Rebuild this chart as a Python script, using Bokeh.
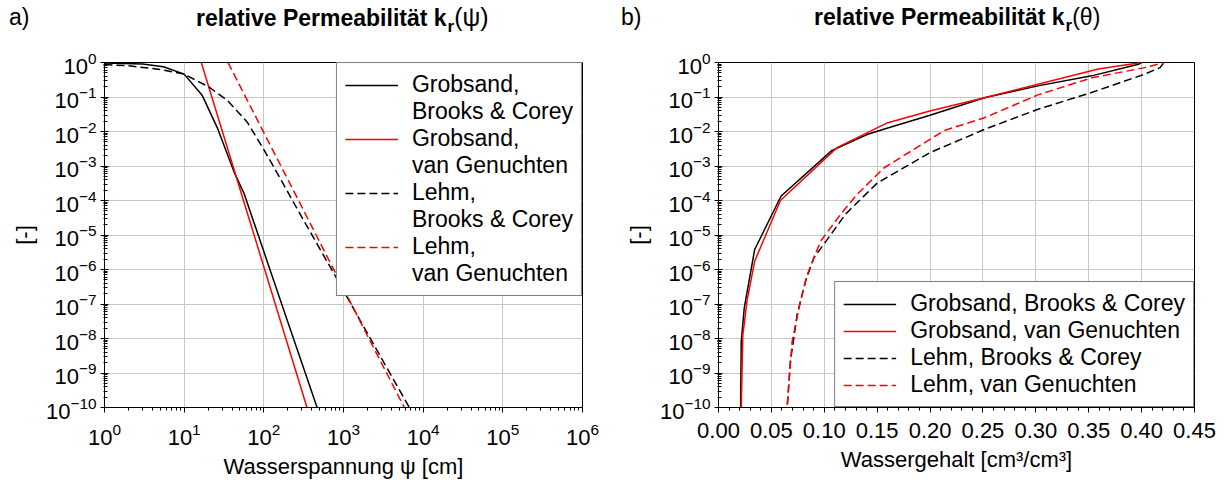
from bokeh.plotting import figure
from bokeh.models import (FixedTicker, LogTickFormatter, Legend, LegendItem, Div,
                          PrintfTickFormatter, Range1d)
from bokeh.layouts import row, column
from bokeh.embed import file_html
from bokeh.resources import INLINE

FONT = "Liberation Sans"

# ---------------- panel a: kr(psi) ----------------
psi_gs_bc = [1, 3, 5.5, 10, 16.9, 26, 42, 56.5, 100, 200, 466, 700]
kr_gs_bc = [0.97, 0.9, 0.75, 0.46, 0.11, 1.3e-2, 7e-4, 1.6e-4, 3.3e-6, 3.0e-8, 1e-10, 6e-12]

psi_gs_vg = [16.4, 30, 60, 100, 200, 348, 450]
kr_gs_vg = [1.0, 1.05e-2, 5.6e-5, 1.2e-6, 6.5e-9, 1e-10, 1.4e-11]

psi_le_bc = [1, 2, 5, 10, 20.5, 35, 62, 100, 149, 300, 849, 2000, 6700, 10000]
kr_le_bc = [0.88, 0.8, 0.63, 0.46, 0.195, 7.9e-2, 1.86e-2, 3.0e-3, 5.9e-4, 3.3e-5, 4.8e-7, 1.4e-8, 1e-10, 1.9e-11]

psi_le_vg = [35.5, 60, 100, 200, 500, 1000, 2000, 5800, 8000]
kr_le_vg = [1.0, 9.3e-2, 9.3e-3, 4.1e-4, 6.4e-6, 2.8e-7, 1.2e-8, 1e-10, 2.4e-11]

# ---------------- panel b: kr(theta) ----------------
th_gs_bc = [0.0205, 0.0209, 0.0215, 0.0244, 0.0342, 0.0592, 0.107, 0.141, 0.16, 0.2007, 0.2514, 0.302, 0.3527, 0.397, 0.40]
krt_gs_bc = [1e-12, 1e-10, 8.3e-9, 7.9e-8, 3.8e-6, 1.35e-4, 2.8e-3, 8.3e-3, 1.26e-2, 3.0e-2, 9.5e-2, 0.21, 0.41, 0.89, 1.0]

th_gs_vg = [0.0209, 0.0215, 0.023, 0.027, 0.0342, 0.0585, 0.112, 0.16, 0.2007, 0.2514, 0.302, 0.359, 0.40]
krt_gs_vg = [1e-12, 1e-10, 1.26e-8, 1.26e-7, 1.74e-6, 1.0e-4, 3.4e-3, 1.8e-2, 4.0e-2, 9.5e-2, 0.234, 0.65, 1.0]

th_le_bc = [0.064, 0.0649, 0.068, 0.0744, 0.0823, 0.0902, 0.106, 0.12, 0.15, 0.2007, 0.2514, 0.302, 0.3527, 0.403, 0.4175, 0.421]
krt_le_bc = [1e-12, 1e-10, 2.2e-9, 5.0e-8, 4.6e-7, 2.2e-6, 1.0e-5, 4.0e-5, 3.2e-4, 2.5e-3, 1.15e-2, 4.4e-2, 0.135, 0.46, 0.71, 1.0]

th_le_vg = [0.064, 0.0649, 0.0696, 0.0775, 0.0839, 0.0965, 0.1155, 0.131, 0.1566, 0.2135, 0.2514, 0.302, 0.3527, 0.403, 0.421]
krt_le_vg = [1e-12, 1e-10, 8.3e-9, 1.2e-7, 7.1e-7, 6.6e-6, 4.0e-5, 1.5e-4, 8.9e-4, 1.07e-2, 2.5e-2, 0.115, 0.36, 0.71, 1.0]

# ---------------- ticks / labels ----------------
y_ticks = [1e-10, 1e-9, 1e-8, 1e-7, 1e-6, 1e-5, 1e-4, 1e-3, 1e-2, 1e-1, 1]
psi_ticks = [1, 10, 100, 1000, 10000, 100000, 1000000]
theta_ticks = [0.0, 0.05, 0.10, 0.15, 0.20, 0.25, 0.30, 0.35, 0.40, 0.45]

series_labels_a = ["Grobsand,\nBrooks & Corey", "Grobsand,\nvan Genuchten",
                   "Lehm,\nBrooks & Corey", "Lehm,\nvan Genuchten"]
series_labels_b = ["Grobsand, Brooks & Corey", "Grobsand, van Genuchten",
                   "Lehm, Brooks & Corey", "Lehm, van Genuchten"]

y_minor = [m * 10.0 ** e for e in range(-10, 0) for m in range(2, 10)]
psi_minor = [m * 10.0 ** e for e in range(0, 6) for m in range(2, 10)]
theta_minor = [i / 100 for i in range(0, 46)]

W, H = 615, 486
TITLE_H = 40
FS = "22px"


def base_fig(x_type, x_range, left, right):
    p = figure(width=W, height=H - TITLE_H, x_axis_type=x_type, y_axis_type="log",
               x_range=x_range, y_range=Range1d(1e-10, 1),
               output_backend="svg", toolbar_location=None,
               min_border_left=left, min_border_right=right,
               min_border_top=62 - TITLE_H, min_border_bottom=79)
    p.background_fill_color = "white"
    p.border_fill_color = "white"
    p.outline_line_color = "black"
    p.outline_line_width = 1
    yt = FixedTicker(ticks=y_ticks, minor_ticks=y_minor)
    p.yaxis.ticker = yt
    p.ygrid.ticker = yt
    p.yaxis.formatter = LogTickFormatter()
    for ax in (p.xaxis[0], p.yaxis[0]):
        ax.major_label_text_font = FONT
        ax.major_label_text_font_size = FS
        ax.major_label_text_color = "black"
        ax.axis_label_text_font = FONT
        ax.axis_label_text_font_size = FS
        ax.axis_label_text_font_style = "normal"
        ax.axis_label_text_color = "black"
        ax.axis_line_color = "black"
        ax.major_tick_line_color = "black"
        ax.minor_tick_line_color = "black"
    p.yaxis.major_tick_in = 4
    p.yaxis.major_tick_out = 4
    p.yaxis.minor_tick_in = 3
    p.yaxis.minor_tick_out = 1
    p.xaxis.major_tick_in = 0
    p.xaxis.major_tick_out = 5
    p.xaxis.minor_tick_in = 0
    p.xaxis.minor_tick_out = 3
    p.yaxis.major_label_standoff = 4
    p.xaxis.major_label_standoff = 10
    p.yaxis.axis_label = "[-]"
    p.yaxis.axis_label_standoff = 6
    p.xaxis.axis_label_standoff = 6
    for g in (p.xgrid[0], p.ygrid[0]):
        g.grid_line_color = "#c8c8c8"
        g.grid_line_width = 1
    return p


def title_div(letter, letter_x, title_x, greek, greek_size):
    html = (
        f'<div style="position:relative;width:{W}px;height:{TITLE_H}px;'
        f'font-family:\'{FONT}\',Arial,sans-serif;color:black;">'
        f'<span style="position:absolute;left:{letter_x}px;top:3px;font-size:23px;'
        f'line-height:28px;white-space:nowrap;">{letter}</span>'
        f'<span style="position:absolute;left:{title_x}px;top:3px;font-size:23px;'
        f'line-height:28px;white-space:nowrap;font-weight:bold;">relative Permeabilität k'
        f'<span style="font-size:17px;position:relative;top:6px;margin-left:1px;">r</span>'
        f'<span style="font-weight:normal;font-size:{greek_size}px;">({greek})</span></span></div>'
    )
    return Div(text=html, width=W, height=TITLE_H, margin=(0, 0, 0, 0))


# ---------------- panel a ----------------
pa = base_fig("log", Range1d(1, 1e6), 104, 33)
xt = FixedTicker(ticks=psi_ticks, minor_ticks=psi_minor)
pa.xaxis.ticker = xt
pa.xgrid.ticker = xt
pa.xaxis.formatter = LogTickFormatter()
pa.xaxis.axis_label = "Wasserspannung ψ [cm]"

ra1 = pa.line(psi_gs_bc, kr_gs_bc, line_color="black", line_width=1.5)
ra2 = pa.line(psi_gs_vg, kr_gs_vg, line_color="#ff0000", line_width=1.5)
ra3 = pa.line(psi_le_bc, kr_le_bc, line_color="black", line_width=1.5, line_dash="8 4")
ra4 = pa.line(psi_le_vg, kr_le_vg, line_color="#ff0000", line_width=1.5, line_dash="8 4")
# invisible renderer used for the second text line of each legend entry
blank = pa.line([], [], line_alpha=0)

items_a = []
for lab, r in zip(series_labels_a, [ra1, ra2, ra3, ra4]):
    first, second = lab.split("\n")
    items_a.append(LegendItem(label=first, renderers=[r]))
    items_a.append(LegendItem(label=second, renderers=[blank]))
leg_a = Legend(items=items_a, location="top_right")

# ---------------- panel b ----------------
pb = base_fig("linear", Range1d(0, 0.45), 103, 36)
xtb = FixedTicker(ticks=theta_ticks, minor_ticks=theta_minor)
pb.xaxis.ticker = xtb
pb.xgrid.ticker = xtb
pb.xaxis.formatter = PrintfTickFormatter(format="%.2f")
pb.xaxis.axis_label = "Wassergehalt [cm³/cm³]"

rb1 = pb.line(th_gs_bc, krt_gs_bc, line_color="black", line_width=1.5)
rb2 = pb.line(th_gs_vg, krt_gs_vg, line_color="#ff0000", line_width=1.5)
rb3 = pb.line(th_le_bc, krt_le_bc, line_color="black", line_width=1.5, line_dash="8 4")
rb4 = pb.line(th_le_vg, krt_le_vg, line_color="#ff0000", line_width=1.5, line_dash="8 4")

leg_b = Legend(items=[LegendItem(label=l, renderers=[r]) for l, r in
                      zip(series_labels_b, [rb1, rb2, rb3, rb4])],
               location="bottom_right")

for leg, p in ((leg_a, pa), (leg_b, pb)):
    leg.label_text_font = FONT
    leg.label_text_font_size = "23px"
    leg.label_text_color = "black"
    leg.border_line_color = "black"
    leg.border_line_width = 1
    leg.background_fill_color = "white"
    leg.background_fill_alpha = 1.0
    leg.margin = 0
    leg.padding = 8
    leg.spacing = 0
    leg.glyph_width = 53
    leg.label_standoff = 14
    p.add_layout(leg)

col_a = column(title_div("a)", 9, 196, "ψ", 25), pa, spacing=0)
col_b = column(title_div("b)", 6, 199, "θ", 23), pb, spacing=0)
layout = row(col_a, col_b, spacing=0)
open("out.html", "w").write(file_html(layout, INLINE))
